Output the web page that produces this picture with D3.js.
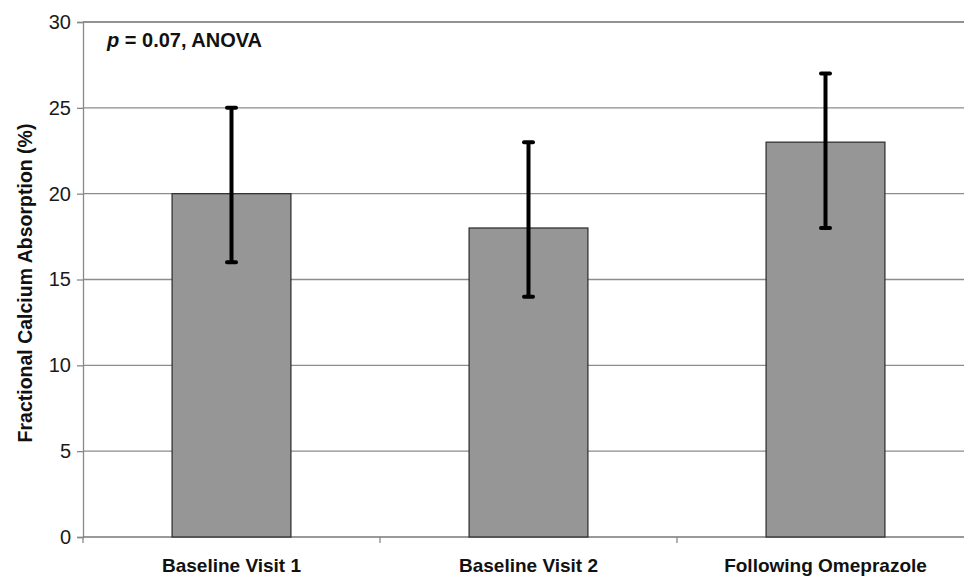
<!DOCTYPE html>
<html>
<head>
<meta charset="utf-8">
<script src="https://cdn.jsdelivr.net/npm/d3@7"></script>
<style>
  body { margin: 0; background: #fff; }
  text { font-family: "Liberation Sans", Arial, sans-serif; }
</style>
</head>
<body>
<script>
var categories = ["Baseline Visit 1", "Baseline Visit 2", "Following Omeprazole"];
var means = [20, 18, 23];
var lowErr = [16, 14, 18];
var highErr = [25, 23, 27];
var yTicks = [0, 5, 10, 15, 20, 25, 30];

var svg = d3.select("body")
    .append("svg")
    .attr("width", 964)
    .attr("height", 577)
    .style("display", "block");

var margin = {top: 22, left: 83, bottom: 40};
var plotW = 891; // runs past the right edge of the window
var plotH = 577 - margin.top - margin.bottom;

var g = svg.append("g").attr("transform", "translate(" + margin.left + "," + margin.top + ")");

var x = d3.scaleBand()
    .domain(categories)
    .range([0, plotW])
    .paddingInner(0.6)
    .paddingOuter(0.3);

var y = d3.scaleLinear()
    .domain([0, 30])
    .range([plotH, 0]);

// gridlines
g.append("g")
    .selectAll("line")
    .data(yTicks.filter(function(d) { return d > 0; }))
    .enter()
    .append("line")
    .attr("x1", 0)
    .attr("x2", plotW)
    .attr("y1", function(d) { return y(d); })
    .attr("y2", function(d) { return y(d); })
    .attr("stroke", function(d) { return d == 30 ? "#6e6e6e" : "#8c8c8c"; })
    .attr("stroke-width", 1.3);

// y axis
var yAxis = d3.axisLeft(y)
    .tickValues(yTicks)
    .tickSize(6)
    .tickPadding(6);

var ya = g.append("g").call(yAxis);
ya.select(".domain").attr("stroke", "#888").attr("stroke-width", 1.3);
ya.selectAll(".tick line").attr("stroke", "#888").attr("stroke-width", 1.3);
ya.selectAll("text")
    .style("font-size", "20px")
    .attr("fill", "#1a1a1a");

// x axis with ticks between categories
var xa = g.append("g").attr("transform", "translate(0," + plotH + ")");
xa.append("line")
    .attr("x1", 0).attr("x2", plotW)
    .attr("stroke", "#777").attr("stroke-width", 1.3);
var step = plotW / categories.length;
xa.selectAll(".sep")
    .data(d3.range(categories.length + 1))
    .enter()
    .append("line")
    .attr("x1", function(i) { return i * step; })
    .attr("x2", function(i) { return i * step; })
    .attr("y1", 0).attr("y2", 6)
    .attr("stroke", "#888").attr("stroke-width", 1.3);
xa.selectAll(".lab")
    .data(categories)
    .enter()
    .append("text")
    .attr("x", function(d) { return x(d) + x.bandwidth() / 2; })
    .attr("y", 35)
    .attr("text-anchor", "middle")
    .style("font-size", "19px")
    .style("font-weight", "bold")
    .attr("fill", "#111")
    .text(function(d) { return d; });

// bars
g.selectAll("rect.bar")
    .data(means)
    .enter()
    .append("rect")
    .attr("class", "bar")
    .attr("x", function(d, i) { return x(categories[i]); })
    .attr("y", function(d) { return y(d); })
    .attr("width", x.bandwidth())
    .attr("height", function(d) { return plotH - y(d); })
    .attr("fill", "#969696")
    .attr("stroke", "#333")
    .attr("stroke-width", 1.3);

// error bars
var eb = g.selectAll("g.err")
    .data(means)
    .enter()
    .append("g")
    .attr("class", "err")
    .attr("transform", function(d, i) { return "translate(" + (x(categories[i]) + x.bandwidth() / 2) + ",0)"; });

eb.append("line")
    .attr("y1", function(d, i) { return y(lowErr[i]); })
    .attr("y2", function(d, i) { return y(highErr[i]); })
    .attr("stroke", "#000")
    .attr("stroke-width", 4);

eb.selectAll("line.cap")
    .data(function(d, i) { return [lowErr[i], highErr[i]]; })
    .enter()
    .append("line")
    .attr("class", "cap")
    .attr("x1", -4.5).attr("x2", 4.5)
    .attr("y1", function(v) { return y(v); })
    .attr("y2", function(v) { return y(v); })
    .attr("stroke", "#000")
    .attr("stroke-width", 4)
    .attr("stroke-linecap", "round");

// annotation
var note = svg.append("text")
    .attr("x", 107)
    .attr("y", 47)
    .style("font-size", "20px")
    .style("font-weight", "bold")
    .attr("fill", "#111");
note.append("tspan").style("font-style", "italic").text("p");
note.append("tspan").text(" = 0.07, ANOVA");

// y axis title
svg.append("text")
    .attr("transform", "translate(32,283) rotate(-90)")
    .attr("text-anchor", "middle")
    .style("font-size", "19.5px")
    .style("font-weight", "bold")
    .attr("fill", "#111")
    .text("Fractional Calcium Absorption (%)");
</script>
</body>
</html>
